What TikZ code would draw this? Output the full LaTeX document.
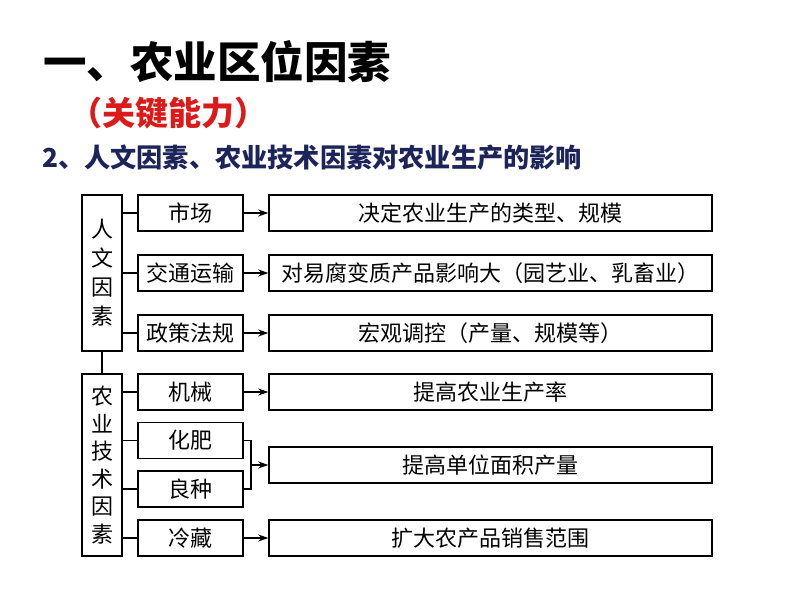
\documentclass[tikz,border=0pt]{standalone}
\usepackage{fontspec}
\setmainfont{Noto Sans CJK SC}
\usetikzlibrary{arrows.meta}
\definecolor{navy}{HTML}{1C2459}
\definecolor{keyred}{HTML}{DD1A1A}
\tikzset{
  box/.style={draw,line width=1.5pt,inner sep=0pt,align=center,
    font=\fontsize{22}{29}\selectfont},
  sidebox/.style={box,minimum width=40pt},
  midbox/.style={box,minimum width=105pt,minimum height=36pt},
  effbox/.style={box,minimum width=443pt,minimum height=36pt},
  link/.style={line width=1.5pt},
  arr/.style={line width=1.5pt,-{Stealth[length=10pt,width=7pt]}}
}
\begin{document}
\begin{tikzpicture}[x=1pt,y=-1pt]
\useasboundingbox (0,0) rectangle (794,596);
% headings
\node[anchor=west,inner sep=0pt,font=\fontsize{43.5}{43.5}\selectfont\bfseries] (title) at (43,62) {一、农业区位因素};
\node[inner sep=0pt,text=keyred,font=\fontsize{33}{33}\selectfont\bfseries] (key) at (168,113) {（关键能力）};
\node[anchor=west,inner sep=0pt,text=navy,font=\fontsize{26.2}{26.2}\selectfont\bfseries] (sub) at (42,158) {2、人文因素、农业技术因素对农业生产的影响};
% factor groups
\node[sidebox,minimum height=156pt] (rw) at (102,273) {人\\文\\因\\素};
\node[sidebox,minimum height=182pt,font=\fontsize{22}{27.5}\selectfont] (js) at (102,465) {农\\业\\技\\术\\因\\素};
\draw[link] (rw) -- (js);
% factors
\foreach \n/\y/\t in {sc/213/市场,jt/273/交通运输,zc/333/政策法规,jx/392/机械,hf/440.5/化肥,lz/489/良种,lc/538/冷藏}
  \node[midbox] (\n) at (190.5,\y) {\t};
% effects
\foreach \n/\y/\t in {
  esc/213/决定农业生产的类型、规模,
  ejt/273/对易腐变质产品影响大（园艺业、乳畜业）,
  ezc/333/宏观调控（产量、规模等）,
  ejx/392/提高农业生产率,
  ehf/465/提高单位面积产量,
  elc/538/扩大农产品销售范围}
  \node[effbox] (\n) at (490.5,\y) {\t};
% connectors
\foreach \n in {sc,jt,zc}
  \draw[link] (rw.east |- \n) -- (\n.west);
\foreach \n in {jx,hf,lz,lc}
  \draw[link] (js.east |- \n) -- (\n.west);
\foreach \n in {sc,jt,zc,jx,lc}
  \draw[arr] (\n) -- (e\n);
\draw[link] (hf.east) -- ++(7,0) coordinate (brk) |- (lz.east);
\coordinate (join) at (brk |- ehf);
\draw[arr] (join) -- (ehf.west);
\end{tikzpicture}
\end{document}
